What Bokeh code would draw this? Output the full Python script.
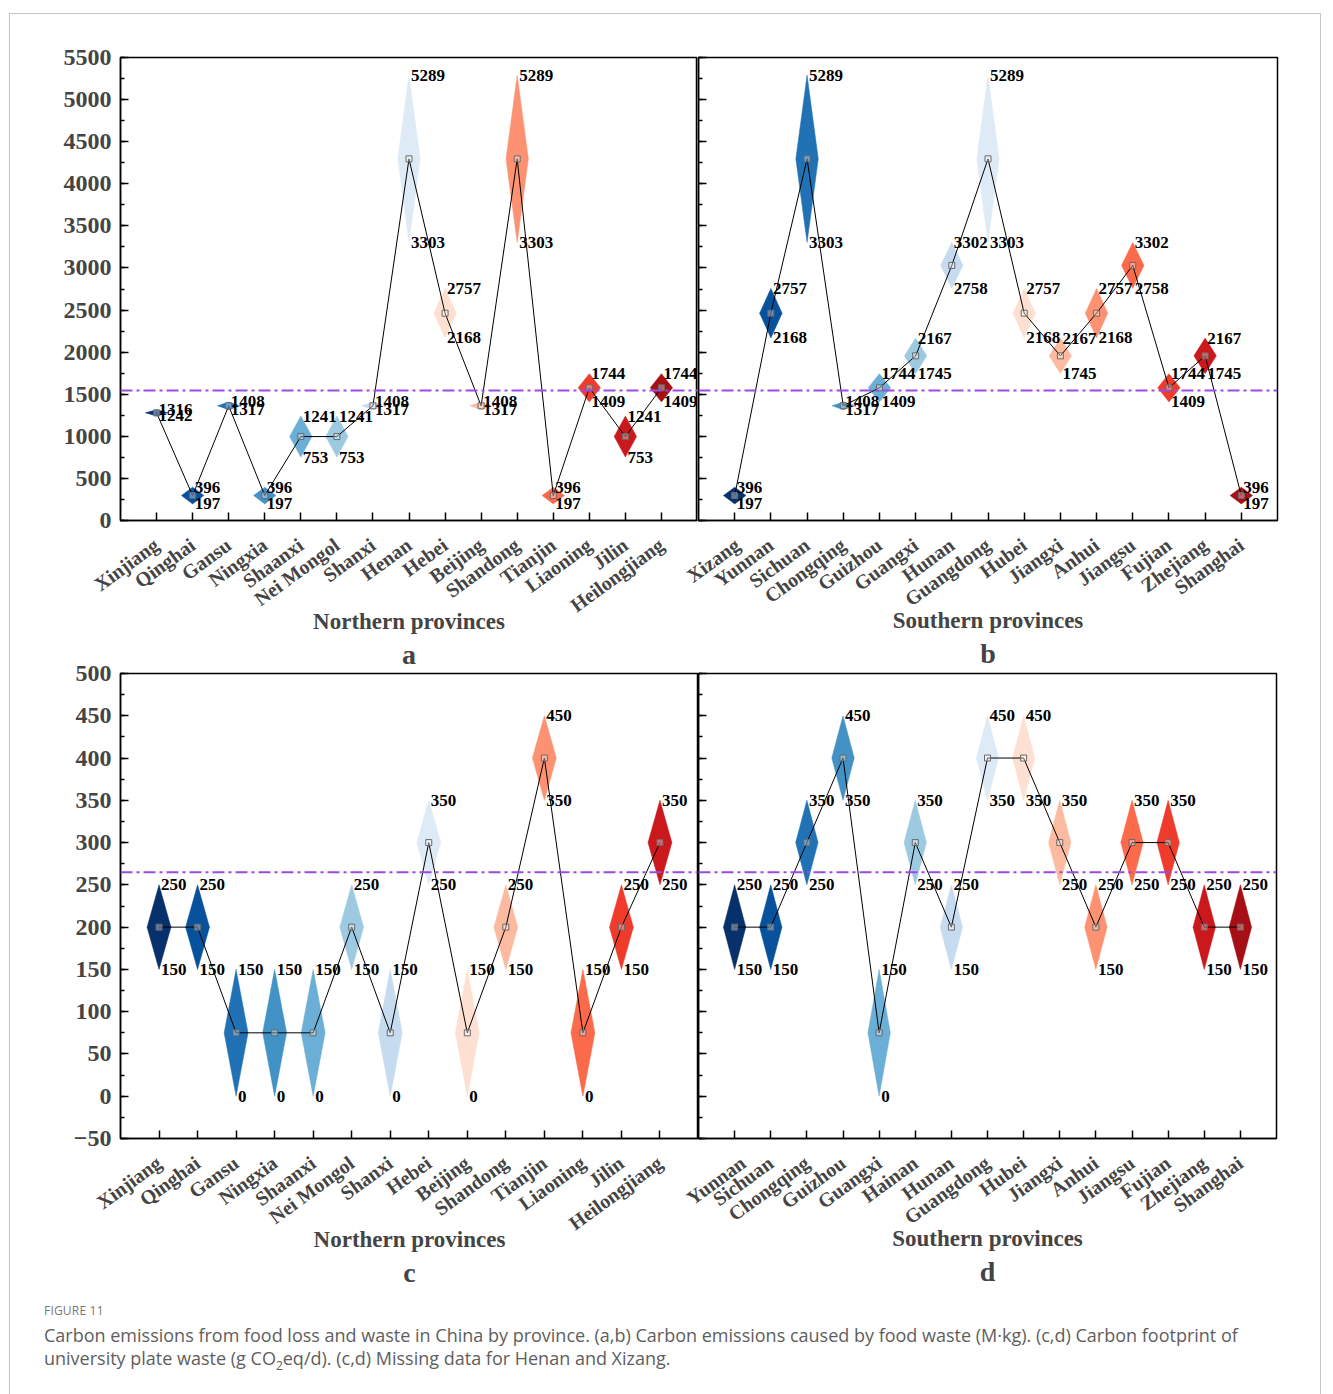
import numpy as np
from bokeh.plotting import figure
from bokeh.models import Range1d, FixedTicker, Span, Title, Div
from bokeh.layouts import row, column
from bokeh.core.properties import value
from bokeh.embed import file_html
from bokeh.resources import INLINE

# ---------------- data ----------------
# (a) Carbon emissions caused by food waste, northern provinces (M·kg)
prov_a = ["Xinjiang", "Qinghai", "Gansu", "Ningxia", "Shaanxi", "Nei Mongol", "Shanxi",
          "Henan", "Hebei", "Beijing", "Shandong", "Tianjin", "Liaoning", "Jilin", "Heilongjiang"]
low_a = [1242, 197, 1317, 197, 753, 753, 1317, 3303, 2168, 1317, 3303, 197, 1409, 753, 1409]
high_a = [1316, 396, 1408, 396, 1241, 1241, 1408, 5289, 2757, 1408, 5289, 396, 1744, 1241, 1744]

# (b) southern provinces
prov_b = ["Xizang", "Yunnan", "Sichuan", "Chongqing", "Guizhou", "Guangxi", "Hunan",
          "Guangdong", "Hubei", "Jiangxi", "Anhui", "Jiangsu", "Fujian", "Zhejiang", "Shanghai"]
low_b = [197, 2168, 3303, 1317, 1409, 1745, 2758, 3303, 2168, 1745, 2168, 2758, 1409, 1745, 197]
high_b = [396, 2757, 5289, 1408, 1744, 2167, 3302, 5289, 2757, 2167, 2757, 3302, 1744, 2167, 396]

# (c) Carbon footprint of university plate waste, northern provinces (g CO2eq/d)
prov_c = ["Xinjiang", "Qinghai", "Gansu", "Ningxia", "Shaanxi", "Nei Mongol", "Shanxi",
          "Hebei", "Beijing", "Shandong", "Tianjin", "Liaoning", "Jilin", "Heilongjiang"]
low_c = [150, 150, 0, 0, 0, 150, 0, 250, 0, 150, 350, 0, 150, 250]
high_c = [250, 250, 150, 150, 150, 250, 150, 350, 150, 250, 450, 150, 250, 350]

# (d) southern provinces
prov_d = ["Yunnan", "Sichuan", "Chongqing", "Guizhou", "Guangxi", "Hainan", "Hunan",
          "Guangdong", "Hubei", "Jiangxi", "Anhui", "Jiangsu", "Fujian", "Zhejiang", "Shanghai"]
low_d = [150, 150, 250, 350, 0, 250, 150, 350, 350, 250, 150, 250, 250, 150, 150]
high_d = [250, 250, 350, 450, 150, 350, 250, 450, 450, 350, 250, 350, 350, 250, 250]

# reference (dash-dot) lines
ref_ab = 1545
ref_cd = 265

# palette
blues = ["#08306b", "#08519c", "#2171b5", "#4292c6", "#6baed6", "#9ecae1", "#c6dbef", "#deebf7"]
reds = ["#fee0d2", "#fcbba1", "#fc9272", "#fb6a4a", "#ef3b2c", "#cb181d", "#a50f15"]

SERIF = "Liberation Serif"
OVL_X = 16   # horizontal overlap of right panels onto left panels (transparent border)
OVL_Y = 27   # vertical overlap of lower panels onto upper panels (transparent border)


def make_panel(names, low, high, colors, yr, ymajor, ref, xlabel, letter,
               ylabels, mbl, mbr, mbt, mbb, fh, fw, xl_standoff, shift_left=0, shift_up=0):
    n = len(names)
    idx = np.arange(1, n + 1)
    lo = np.array(low, float)
    hi = np.array(high, float)
    mid = (lo + hi) / 2.0
    p = figure(frame_width=fw, frame_height=fh,
               x_range=Range1d(0, n + 1), y_range=Range1d(*yr),
               output_backend="svg", toolbar_location=None,
               min_border_left=mbl, min_border_right=mbr,
               min_border_top=mbt, min_border_bottom=mbb,
               background_fill_color="white", border_fill_color="white")
    if shift_left or shift_up:
        p.border_fill_alpha = 0
        p.margin = (-shift_up, 0, 0, -shift_left)
    p.outline_line_color = "black"
    p.outline_line_width = 1.5
    p.xgrid.visible = False
    p.ygrid.visible = False

    hw = 0.31
    xs = [[i - hw, i, i + hw, i] for i in idx]
    ys = [[m, h, m, l] for m, h, l in zip(mid, hi, lo)]
    p.patches(xs, ys, fill_color=colors, line_color=colors, line_width=0.5)

    p.add_layout(Span(location=ref, dimension="width", line_color="#9b4ae6",
                      line_width=2, line_dash="12 4 3 4"))

    p.line(idx, mid, line_color="black", line_width=1)
    p.scatter(idx, mid, marker="square", size=6, fill_color="white", fill_alpha=0.35,
              line_color="#6a6a6a", line_width=1)

    common = dict(text_font=value(SERIF), text_font_style="bold", text_font_size="17px",
                  text_align="left", text_baseline="middle", x_offset=2, text_color="black")
    p.text(idx, hi, text=[str(v) for v in high], **common)
    p.text(idx, lo, text=[str(v) for v in low], **common)

    # x axis
    xa = p.xaxis[0]
    xa.ticker = FixedTicker(ticks=[int(i) for i in idx])
    xa.major_label_overrides = {int(i): nm for i, nm in zip(idx, names)}
    xa.major_label_orientation = 0.63
    xa.major_label_text_font = SERIF
    xa.major_label_text_font_style = "bold"
    xa.major_label_text_font_size = "20px"
    xa.major_label_standoff = 22
    xa.major_tick_in = 8
    xa.major_tick_out = 0
    xa.minor_tick_in = 0
    xa.minor_tick_out = 0
    xa.axis_line_width = 1.5
    xa.major_tick_line_width = 1.5
    xa.axis_label = xlabel
    xa.axis_label_text_font = SERIF
    xa.axis_label_text_font_style = "bold"
    xa.axis_label_text_font_size = "23px"
    xa.axis_label_standoff = xl_standoff

    # y axis
    ticks = [int(t) for t in np.arange(yr[0], yr[1] + 1, ymajor)]
    minors = [float(t) for t in np.arange(yr[0], yr[1] + 1, ymajor / 2.0)]
    ya = p.yaxis[0]
    ya.ticker = FixedTicker(ticks=ticks, minor_ticks=minors)
    ya.major_tick_in = 8
    ya.major_tick_out = 0
    ya.minor_tick_in = 4
    ya.minor_tick_out = 0
    ya.axis_line_width = 1.5
    ya.major_tick_line_width = 1.5
    ya.minor_tick_line_width = 1.5
    if ylabels:
        ya.major_label_text_font = SERIF
        ya.major_label_text_font_style = "bold"
        ya.major_label_text_font_size = "24px"
        ya.major_label_standoff = 9
    else:
        ya.major_label_overrides = {t: "" for t in ticks}
        ya.major_label_standoff = 0

    p.add_layout(Title(text=letter, align="center", text_font=SERIF, text_font_style="bold",
                       text_font_size="28px", standoff=-2), "below")
    return p


colors15 = blues + reds
colors14 = blues + reds[:6]

pa = make_panel(prov_a, low_a, high_a, colors15, (0, 5500), 500, ref_ab,
                "Northern provinces", "a", True, 110, 0, 43, 160, 463, 579, -19)
pb = make_panel(prov_b, low_b, high_b, colors15, (0, 5500), 500, ref_ab,
                "Southern provinces", "b", False, OVL_X, 43, 43, 160, 463, 580, -14,
                shift_left=OVL_X)
pc = make_panel(prov_c, low_c, high_c, colors14, (-50, 500), 50, ref_cd,
                "Northern provinces", "c", True, 110, 0, 20, 150, 465, 580, -19,
                shift_up=OVL_Y)
pd_ = make_panel(prov_d, low_d, high_d, colors15, (-50, 500), 50, ref_cd,
                 "Southern provinces", "d", False, OVL_X, 43, 20, 150, 465, 580, -14,
                 shift_left=OVL_X, shift_up=OVL_Y)

caption = Div(width=1312, height=103, text=(
    '<div style="padding:9px 0 0 29px;font-family:\'Open Sans\',Lato,sans-serif;color:#5e5e5e;">'
    '<div style="font-size:12px;color:#777;letter-spacing:0.2px;">FIGURE 11</div>'
    '<div style="font-size:18px;line-height:23px;margin-top:5px;">'
    'Carbon emissions from food loss and waste in China by province. (a,b) Carbon emissions caused by '
    'food waste (M&middot;kg). (c,d) Carbon footprint of<br>university plate waste '
    '(g CO<sub style="font-size:12px;">2</sub>eq/d). (c,d) Missing data for Henan and Xizang.'
    '</div></div>'))

layout = column(row(pa, pb), row(pc, pd_), caption, width=1312,
                styles={"border": "1px solid #c4c4c4", "margin-left": "9px", "margin-top": "13px"})

html = file_html(layout, INLINE)
open("out.html", "w").write(html)
